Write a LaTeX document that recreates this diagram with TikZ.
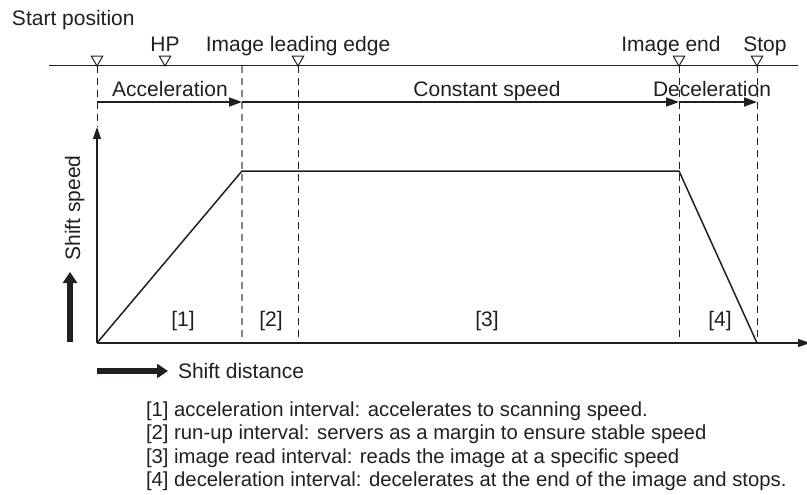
\documentclass[tikz,border=0pt]{standalone}
\usepackage{fontspec}
\setmainfont{Liberation Sans}
\usetikzlibrary{arrows.meta,shapes.geometric}
\definecolor{ink}{HTML}{231F20}
\begin{document}
\begin{tikzpicture}[x=1pt,y=-1pt,
  every node/.style={inner sep=0pt, outer sep=0pt, text=ink, font=\fontsize{21}{24}\selectfont},
  lbl/.style={anchor=base},
  note/.style={anchor=base west, font=\fontsize{20.3}{23}\selectfont},
  tri/.style={draw=ink, regular polygon, regular polygon sides=3, shape border rotate=180, minimum size=13pt, line width=1pt, anchor=corner 1},
  thinline/.style={draw=ink, line width=1pt},
  dashv/.style={draw=ink, line width=1pt, dash pattern=on 7pt off 5pt},
  dashg/.style={draw=ink!55, line width=1.2pt, dash pattern=on 7pt off 5pt},
  motion/.style={draw=ink, line width=1.8pt, -{Triangle[length=13pt,width=9pt]}},
  axis/.style={draw=ink, line width=1.1pt, -{Triangle[length=12pt,width=8pt]}},
  curve/.style={draw=ink, line width=1.5pt, line join=miter},
  bigarrow/.style={draw=ink, line width=6pt, -{Triangle[length=11pt,width=14pt]}}
]
\useasboundingbox (0,0) rectangle (807,495);

% top reference line
\coordinate (L0) at (49,66);
\coordinate (L1) at (798,66);
\draw[thinline] (L0) -- (L1);

% markers
\node[tri] (tS) at (97,66) {};
\node[tri] (tH) at (165,66) {};
\node[tri] (tL) at (298,66) {};
\node[tri] (tE) at (679,66) {};
\node[tri] (tP) at (757,66) {};
\coordinate (tA) at (242,66);

% labels above
\node[anchor=base west] (start) at (12,26) {Start position};
\node[lbl] (hp) at (165,52) {HP};
\node[lbl] (lead) at (298,52) {Image leading edge};
\node[lbl] (iend) at (671,52) {Image end};
\node[lbl] (stop) at (765,52) {Stop};

% graph coordinates
\coordinate (O) at (97,343);
\coordinate (Ytop) at (97,127);
\coordinate (Xend) at (810,343);
\coordinate (A) at (242,171);
\coordinate (B) at (679,171);
\coordinate (C) at (757,343);
\coordinate (bA) at (242,343);
\coordinate (bL) at (298,343);
\coordinate (bE) at (679,343);

% dashed verticals
\draw[dashv] (tS.corner 1) -- (Ytop);
\draw[dashg] (tA) -- (bA);
\draw[dashv] (tL.corner 1) -- (bL);
\draw[dashv] (tE.corner 1) -- (bE);
\draw[dashv] (tP.corner 1) -- (C);

% motion arrows
\coordinate (m0) at (97,102);
\coordinate (m1) at (242,102);
\coordinate (m2) at (679,102);
\coordinate (m3) at (757,102);
\draw[motion] (m0) -- (m1);
\draw[motion] (m1) -- (m2);
\draw[motion] (m2) -- (m3);
\node[lbl] (acc) at (170,97) {Acceleration};
\node[lbl] (const) at (487,97) {Constant speed};
\node[lbl] (dec) at (712,97) {Deceleration};

% axes
\draw[axis] (O) -- (Ytop);
\draw[axis] (O) -- (Xend);

% speed profile
\draw[curve] (O) -- (A) -- (B) -- (C);

% interval labels
\node[lbl] (i1) at (183,326) {[1]};
\node[lbl] (i2) at (271,326) {[2]};
\node[lbl] (i3) at (487,326) {[3]};
\node[lbl] (i4) at (720,326) {[4]};

% axis legends
\node[anchor=base, rotate=90] (sspeed) at (80,208) {Shift speed};
\coordinate (ua0) at (70,342);
\coordinate (ua1) at (70,272);
\draw[bigarrow] (ua0) -- (ua1);
\coordinate (ra0) at (97,371);
\coordinate (ra1) at (168,371);
\draw[bigarrow] (ra0) -- (ra1);
\node[anchor=base west] (sdist) at (178,378) {Shift distance};

% notes
\node[note] (n1) at (146,416) {[1] acceleration interval: accelerates to scanning speed.};
\node[note] (n2) at (146,439.5) {[2] run-up interval: servers as a margin to ensure stable speed};
\node[note] (n3) at (146,463) {[3] image read interval: reads the image at a specific speed};
\node[note] (n4) at (146,486) {[4] deceleration interval: decelerates at the end of the image and stops.};
\end{tikzpicture}
\end{document}
